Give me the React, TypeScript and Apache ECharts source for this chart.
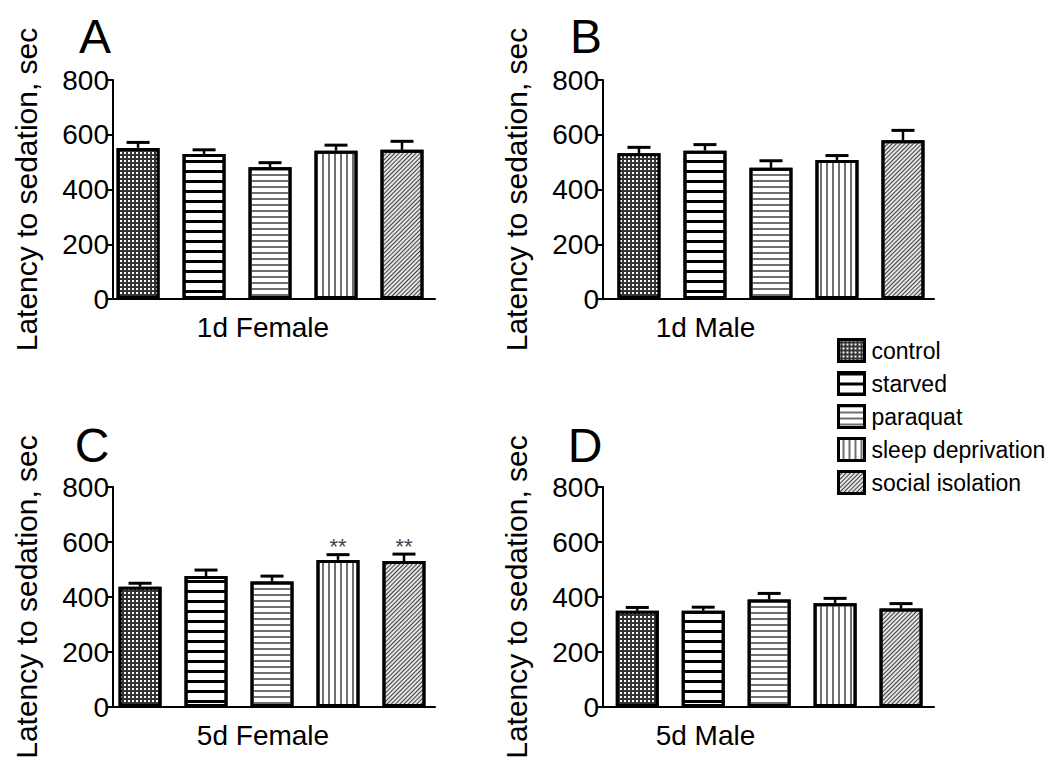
import React, { useEffect, useRef } from 'react';
import * as echarts from 'echarts';

// ---------- data ----------
const groups = ['control', 'starved', 'paraquat', 'sleep deprivation', 'social isolation'];
const panelTitles = ['1d Female', '1d Male', '5d Female', '5d Male'];
const panelLetters = ['A', 'B', 'C', 'D'];
const yName = 'Latency to sedation, sec';

const mean1dFemale = [552, 530, 481, 542, 545];
const sem1dFemale = [20, 15, 17, 20, 31];
const sig1dFemale = ['', '', '', '', ''];

const mean1dMale = [532, 542, 479, 508, 580];
const sem1dMale = [22, 22, 26, 16, 36];
const sig1dMale = ['', '', '', '', ''];

const mean5dFemale = [437, 476, 456, 535, 531];
const sem5dFemale = [13, 22, 20, 19, 25];
const sig5dFemale = ['', '', '', '**', '**'];

const mean5dMale = [350, 350, 391, 377, 358];
const sem5dMale = [12, 13, 22, 18, 18];
const sig5dMale = ['', '', '', '', ''];

const panelMeans = [mean1dFemale, mean1dMale, mean5dFemale, mean5dMale];
const panelSems = [sem1dFemale, sem1dMale, sem5dFemale, sem5dMale];
const panelSigs = [sig1dFemale, sig1dMale, sig5dFemale, sig5dMale];

// ---------- layout / style ----------
const FONT = '"Liberation Sans", Arial, sans-serif';
const grids = [
  { left: 113, top: 80, width: 322, height: 219 },
  { left: 603, top: 80, width: 331, height: 219 },
  { left: 113, top: 487, width: 322, height: 220 },
  { left: 603, top: 487, width: 331, height: 220 },
];
const xRanges = [
  [-0.38, 4.5],
  [-0.545, 4.47],
  [-0.41, 4.47],
  [-0.52, 4.5],
];
const xNamePad = [22, 126, 22, 126];
const letterPos = [
  [95, 36],
  [586, 36],
  [92, 445],
  [585, 445],
];

const fillColors = ['#333333', '#ffffff', '#ffffff', '#ffffff', '#e4e4e4'];
const decals: any[] = [
  { symbol: 'rect', symbolSize: 1, color: '#ffffff', dashArrayX: [1.4, 1.6], dashArrayY: [1.4, 1.6] },
  { symbol: 'rect', symbolSize: 1, color: '#000000', dashArrayX: [1, 0], dashArrayY: [2.2, 6.4] },
  { symbol: 'rect', symbolSize: 1, color: '#707070', dashArrayX: [1, 0], dashArrayY: [1.3, 3.1] },
  { symbol: 'rect', symbolSize: 1, color: '#707070', dashArrayX: [1, 0], dashArrayY: [1.3, 3.2], rotation: Math.PI / 2 },
  { symbol: 'rect', symbolSize: 1, color: '#404040', dashArrayX: [1, 0], dashArrayY: [1, 1.3], rotation: -Math.PI / 4 },
];

function buildOption(): any {
  const xAxis: any[] = [];
  const yAxis: any[] = [];
  const series: any[] = [];
  const graphic: any[] = [];

  grids.forEach((g, p) => {
    xAxis.push({
      type: 'value',
      gridIndex: p,
      min: xRanges[p][0],
      max: xRanges[p][1],
      axisLine: { show: true, onZero: false, lineStyle: { color: '#000', width: 2 } },
      axisTick: { show: false },
      axisLabel: { show: false },
      splitLine: { show: false },
      name: panelTitles[p],
      nameLocation: 'middle',
      nameGap: 14,
      nameTextStyle: {
        fontSize: 28,
        color: '#000',
        fontFamily: FONT,
        padding: [0, xNamePad[p], 0, 0],
      },
    });
    yAxis.push({
      type: 'value',
      gridIndex: p,
      min: 0,
      max: 800,
      interval: 200,
      axisLine: { show: true, onZero: false, lineStyle: { color: '#000', width: 2 } },
      axisTick: { show: true, length: 6, lineStyle: { color: '#000', width: 2 } },
      axisLabel: { fontSize: 28, color: '#000', fontFamily: FONT, margin: 4 },
      splitLine: { show: false },
      name: yName,
      nameLocation: 'middle',
      nameGap: 72,
      nameTextStyle: { fontSize: 30, color: '#000', fontFamily: FONT },
    });

    const means = panelMeans[p];
    const sems = panelSems[p];
    const sigs = panelSigs[p];

    groups.forEach((name, i) => {
      series.push({
        type: 'bar',
        name,
        xAxisIndex: p,
        yAxisIndex: p,
        barWidth: 43,
        barGap: '-100%',
        data: [[i, means[i]]],
        itemStyle: {
          color: fillColors[i],
          borderColor: '#000',
          borderWidth: 3,
          decal: decals[i],
        },
        emphasis: { disabled: true },
      });
    });

    series.push({
      type: 'custom',
      name: 'SEM ' + panelTitles[p],
      xAxisIndex: p,
      yAxisIndex: p,
      z: 5,
      data: means.map((m, i) => [i, m, sems[i]]),
      renderItem: (params: any, api: any) => {
        const x = api.value(0);
        const m = api.value(1);
        const e = api.value(2);
        const p0 = api.coord([x, m]);
        const p1 = api.coord([x, m + e]);
        const half = 11.5;
        const children: any[] = [
          {
            type: 'line',
            shape: { x1: p0[0], y1: p0[1], x2: p1[0], y2: p1[1] },
            style: { stroke: '#000', lineWidth: 2.5 },
          },
          {
            type: 'line',
            shape: { x1: p1[0] - half, y1: p1[1], x2: p1[0] + half, y2: p1[1] },
            style: { stroke: '#000', lineWidth: 3 },
          },
        ];
        const s = sigs[params.dataIndex];
        if (s) {
          children.push({
            type: 'text',
            x: p1[0],
            y: p1[1] + 3,
            style: {
              text: s,
              fill: '#444',
              fontSize: 22,
              fontFamily: FONT,
              align: 'center',
              verticalAlign: 'bottom',
            },
          });
        }
        return { type: 'group', children };
      },
    });

    graphic.push({
      type: 'text',
      x: letterPos[p][0],
      y: letterPos[p][1],
      style: {
        text: panelLetters[p],
        fontSize: 48,
        fontFamily: FONT,
        fill: '#000',
        align: 'center',
        verticalAlign: 'middle',
      },
    });
  });

  return {
    animation: false,
    backgroundColor: '#ffffff',
    grid: grids.map((g) => ({ ...g, containLabel: false })),
    xAxis,
    yAxis,
    series,
    graphic,
    legend: {
      data: groups,
      orient: 'vertical',
      left: 832,
      top: 333,
      icon: 'rect',
      itemWidth: 26,
      itemHeight: 22,
      itemGap: 8,
      selectedMode: false,
      textStyle: { fontSize: 23, color: '#000', fontFamily: FONT, padding: [0, 0, 0, 2] },
      itemStyle: { borderColor: '#000', borderWidth: 3 },
    },
  };
}

export default function App() {
  const ref = useRef<HTMLDivElement>(null);
  useEffect(() => {
    if (!ref.current) return;
    const chart = echarts.init(ref.current, undefined, { renderer: 'svg' });
    chart.setOption(buildOption());
    return () => chart.dispose();
  }, []);
  return (
    <div
      ref={ref}
      style={{ position: 'absolute', left: 0, top: 0, width: 1050, height: 769, background: '#fff' }}
    />
  );
}
